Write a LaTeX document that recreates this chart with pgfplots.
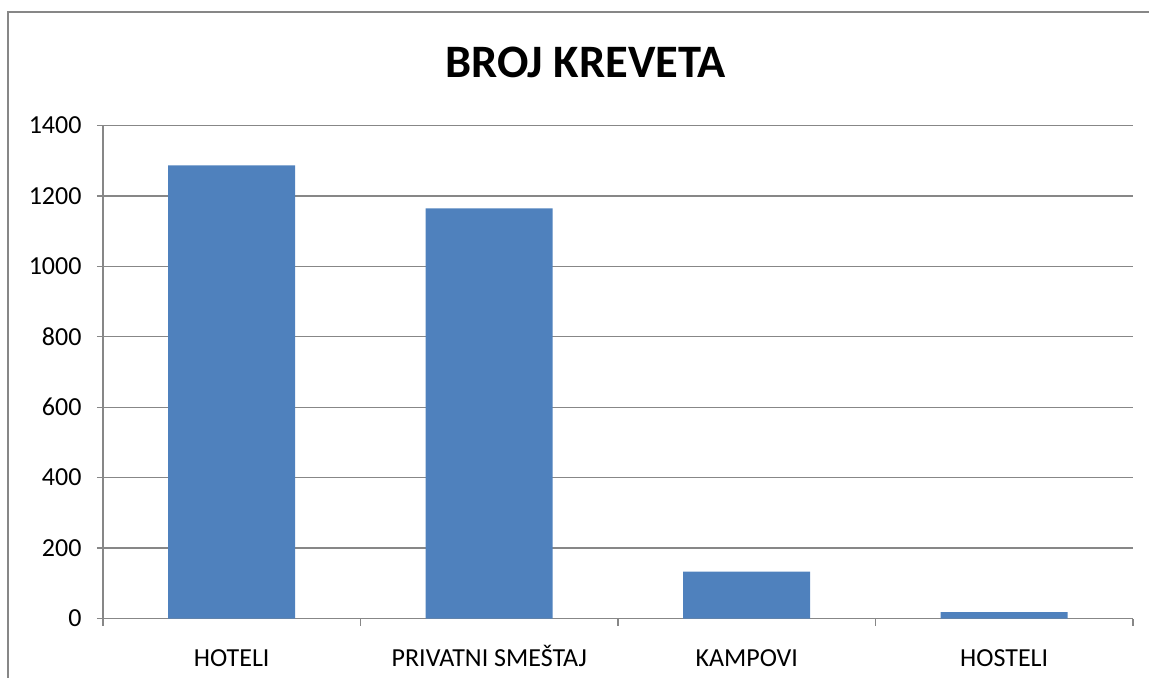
\documentclass[border=0pt]{standalone}
\usepackage{pgfplots}
\pgfplotsset{compat=1.18}
\usepackage{fontspec}
\setmainfont{Carlito}
\definecolor{barblue}{HTML}{4F81BD}
\definecolor{gridgray}{HTML}{878787}
\begin{document}
\begin{tikzpicture}
\useasboundingbox (-103bp,-59.5bp) rectangle (1046bp,618.5bp);
\draw[gridgray, line width=1.6bp] (-95bp,-59.5bp) -- (-95bp,606.5bp) -- (1046bp,606.5bp);
\node[anchor=base, font=\fontsize{46.5bp}{50bp}\selectfont\bfseries, inner sep=0pt] at (482.5bp,540.5bp) {BROJ KREVETA};
\begin{axis}[
  at={(0,0)}, anchor=south west,
  scale only axis, width=1030bp, height=493bp,
  xmin=0.5, xmax=4.5, ymin=0, ymax=1400,
  axis lines*=left,
  axis line style={gridgray, line width=1.3bp},
  ytick={0,200,...,1400},
  ymajorgrids, grid style={gridgray, line width=1.3bp},
  xtick={1,2,3,4},
  xticklabels={HOTELI, PRIVATNI SMEŠTAJ, KAMPOVI, HOSTELI},
  minor xtick={0.5,1.5,2.5,3.5,4.5},
  major x tick style={draw=none},
  minor x tick style={gridgray, line width=1.3bp},
  y tick style={gridgray, line width=1.3bp},
  tick align=outside,
  major tick length=6bp, minor tick length=7bp,
  tick label style={font=\fontsize{26bp}{28bp}\selectfont, text=black},
  /pgf/number format/assume math mode=true,
  /pgf/number format/1000 sep={},
  yticklabel style={xshift=-12bp},
  xticklabel style={anchor=base, yshift=-41.5bp},
  ybar, bar width=127bp,
]
\addplot[fill=barblue, draw=none] coordinates {(1,1287) (2,1165) (3,133) (4,18)};
\end{axis}
\end{tikzpicture}
\end{document}
